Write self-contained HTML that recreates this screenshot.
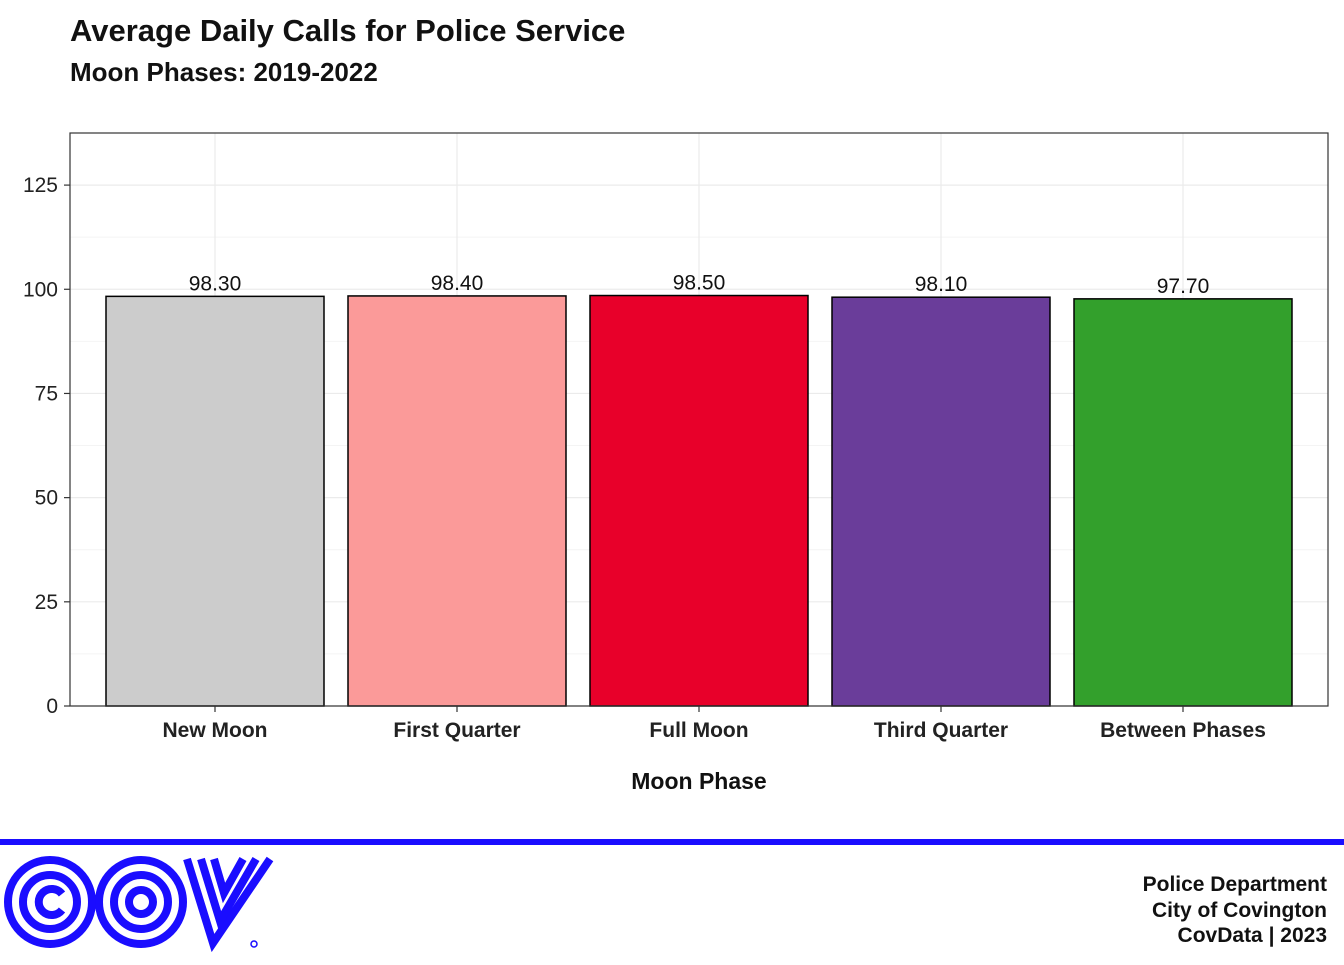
<!DOCTYPE html>
<html><head><meta charset="utf-8"><style>
body{margin:0;background:#fff;width:1344px;height:960px;overflow:hidden;font-family:"Liberation Sans",sans-serif}
</style></head><body>
<svg width="1344" height="960" xmlns="http://www.w3.org/2000/svg">
<text x="70" y="41" font-size="31" font-weight="bold" fill="#111">Average Daily Calls for Police Service</text>
<text x="70" y="81" font-size="26" font-weight="bold" fill="#111">Moon Phases: 2019-2022</text>
<g id="grid"></g>
<g id="bars"></g>
<rect x="70" y="133" width="1258" height="573" fill="none" stroke="#333" stroke-width="1.2"/>
<g id="axes"></g>
<text x="699" y="789" font-size="23" font-weight="bold" text-anchor="middle" fill="#111">Moon Phase</text>
<rect x="0" y="839" width="1344" height="6" fill="#1a0dff"/>
<g fill="none" stroke="#1a0dff" stroke-width="8">
<circle cx="50" cy="902" r="42"/><circle cx="50" cy="902" r="27"/>
<path d="M62 894 A13 13 0 1 0 62 910"/>
<circle cx="141" cy="902" r="42"/><circle cx="141" cy="902" r="27"/><circle cx="141" cy="902" r="12"/>
<path d="M187 859 L213 943 L270 859"/>
<path d="M201 859 L220 921 L256 859"/>
<path d="M214 859 L224 893 L243 859"/>
<circle cx="254" cy="944" r="3" stroke-width="1.5"/>
</g>
<g font-size="21" font-weight="bold" fill="#111" text-anchor="end">
<text x="1327" y="891">Police Department</text>
<text x="1327" y="917">City of Covington</text>
<text x="1327" y="942">CovData | 2023</text>
</g>
</svg>
<script>
const categories=["New Moon","First Quarter","Full Moon","Third Quarter","Between Phases"];
const values=[98.3,98.4,98.5,98.1,97.7];
const colors=["#cccccc","#fb9a99","#e8002a","#6a3d9a","#33a02c"];
const yTicks=[0,25,50,75,100,125];
const NS="http://www.w3.org/2000/svg";
const x0=70,x1=1328,y0=706,yMax=137.5,panelTop=133;
const bandStart=94,bandEnd=1304;
const y=v=>y0-(v/yMax)*(y0-panelTop);
const band=(bandEnd-bandStart)/categories.length;
const xc=i=>bandStart+band*(i+0.5);
const bw=218;
function mk(t,a,p){const e=document.createElementNS(NS,t);for(const k in a)e.setAttribute(k,a[k]);p.appendChild(e);return e;}
const grid=document.getElementById('grid'),bars=document.getElementById('bars'),axes=document.getElementById('axes');
for(let i=0;i<yTicks.length;i++){
 const g=mk('line',{x1:x0,x2:x1,y1:y(yTicks[i]),y2:y(yTicks[i]),stroke:'#ebebeb','stroke-width':1.2},grid);
 
 
 if(i<yTicks.length-1){const m=mk('line',{x1:x0,x2:x1,y1:y(yTicks[i]+12.5),y2:y(yTicks[i]+12.5),stroke:'#f4f4f4','stroke-width':1},grid);
 
 }
 const t=mk('line',{x1:x0-6,x2:x0,y1:y(yTicks[i]),y2:y(yTicks[i]),stroke:'#333','stroke-width':1.2},axes);
 
 
 const l=mk('text',{x:x0-12,y:y(yTicks[i])+7,'font-size':21,'text-anchor':'end',fill:'#222'},axes);
 l.textContent=yTicks[i];
 
 
}
categories.forEach((c,i)=>{
 const g=mk('line',{x1:xc(i),x2:xc(i),y1:panelTop,y2:y0,stroke:'#ebebeb','stroke-width':1.2},grid);
 
 
 const r=mk('rect',{x:xc(i)-bw/2,y:y(values[i]),width:bw,height:y0-y(values[i]),fill:colors[i],stroke:'#000','stroke-width':1.5},bars);
 
 
 const v=mk('text',{x:xc(i),y:y(values[i])-6,'font-size':21,'text-anchor':'middle',fill:'#111'},bars);
 v.textContent=values[i].toFixed(2);
 
 
 const t=mk('line',{x1:xc(i),x2:xc(i),y1:y0,y2:y0+6,stroke:'#333','stroke-width':1.2},axes);
 
 
 const l=mk('text',{x:xc(i),y:y0+31,'font-size':21,'font-weight':'bold','text-anchor':'middle',fill:'#222'},axes);
 l.textContent=c;
 
 
});
</script>
</body></html>
